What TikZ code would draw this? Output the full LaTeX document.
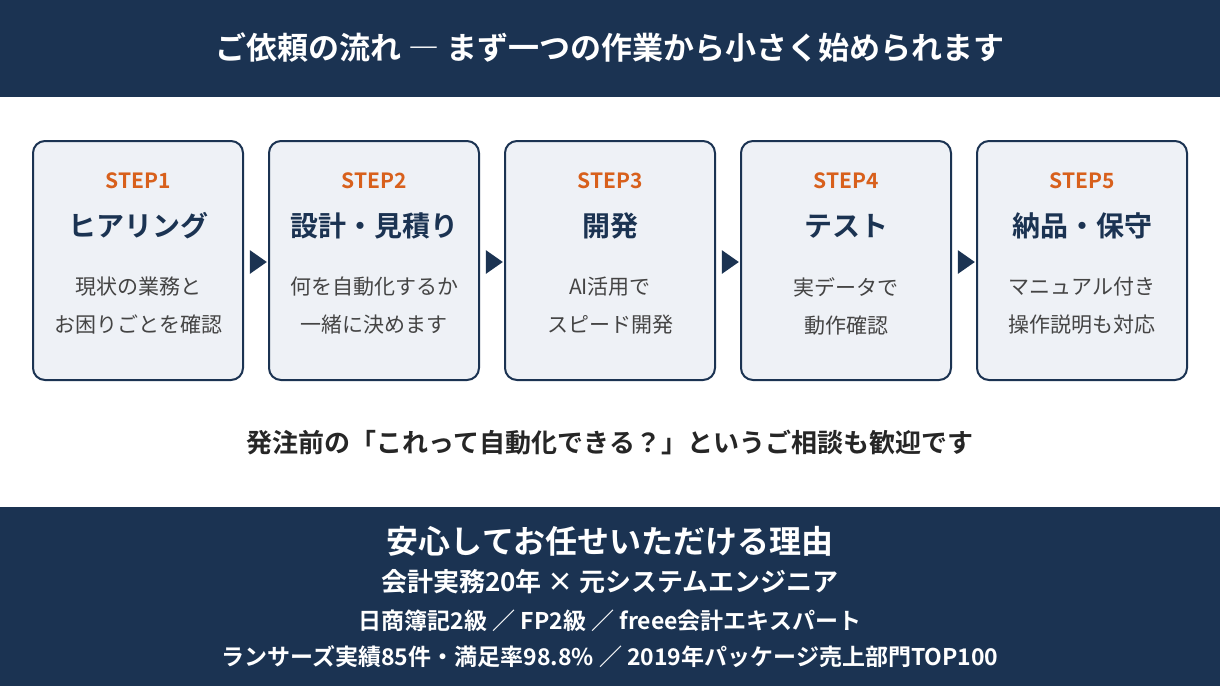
\documentclass[tikz,border=0pt]{standalone}
\usetikzlibrary{shapes.geometric}
\usepackage{fontspec}
\setmainfont{Noto Sans CJK JP}[BoldFont={Noto Sans CJK JP Bold}]
\definecolor{navy}{HTML}{1B3352}
\definecolor{boxfill}{HTML}{EEF1F6}
\definecolor{steporange}{HTML}{D8601C}
\definecolor{desc}{HTML}{444444}
\begin{document}
\begin{tikzpicture}[x=1pt,y=-1pt,
  box/.style={draw=navy,line width=2pt,fill=boxfill,rounded corners=12pt,minimum width=210pt,minimum height=239pt,inner sep=0pt},
  stp/.style={text=steporange,font=\bfseries\fontsize{21}{24}\selectfont},
  ttl/.style={text=navy,font=\bfseries\fontsize{28}{32}\selectfont},
  dsc/.style={text=desc,font=\fontsize{21}{38}\selectfont,align=center},
  tri/.style={fill=navy,isosceles triangle,isosceles triangle apex angle=70,inner sep=0pt,minimum height=17pt,minimum width=20pt},
  wt/.style={text=white,font=\bfseries}]
\useasboundingbox (0,0) rectangle (1220,686);
\fill[white] (0,0) rectangle (1220,686);
\fill[navy] (0,0) rectangle (1220,97);
\fill[navy] (0,507) rectangle (1220,686);
\node[wt,font=\bfseries\fontsize{31}{36}\selectfont] (title) at (610,48) {ご依頼の流れ ― まず一つの作業から小さく始められます};
\foreach \i/\x/\s/\t/\a/\b in {1/138/STEP1/ヒアリング/現状の業務と/お困りごとを確認,
  2/374/STEP2/設計・見積り/何を自動化するか/一緒に決めます,
  3/610/STEP3/開発/AI活用で/スピード開発,
  4/846/STEP4/テスト/実データで/動作確認,
  5/1082/STEP5/納品・保守/マニュアル付き/操作説明も対応}{
  \node[box] (b\i) at (\x,260.5) {};
  \node[stp] (s\i) at (\x,181) {\s};
  \node[ttl] (t\i) at (\x,226) {\t};
  \node[dsc] (d\i) at (\x,306) {\a\\\b};
}
\foreach \x[count=\j] in {256,492,728,964}{
  \node[tri] (a\j) at (\x,262) {};
}
\node[font=\bfseries\fontsize{26}{30}\selectfont,text=black!85] (mid) at (610,443) {発注前の「これって自動化できる？」というご相談も歓迎です};
\node[wt,font=\bfseries\fontsize{32}{36}\selectfont] (r1) at (610,541) {安心してお任せいただける理由};
\node[wt,font=\bfseries\fontsize{26}{30}\selectfont] (r2) at (610,582) {会計実務20年 × 元システムエンジニア};
\node[wt,font=\bfseries\fontsize{23}{28}\selectfont] (r3) at (610,621) {日商簿記2級 ／ FP2級 ／ freee会計エキスパート};
\node[wt,font=\bfseries\fontsize{23}{28}\selectfont] (r4) at (610,657) {ランサーズ実績85件・満足率98.8\% ／ 2019年パッケージ売上部門TOP100};
\end{tikzpicture}
\end{document}
